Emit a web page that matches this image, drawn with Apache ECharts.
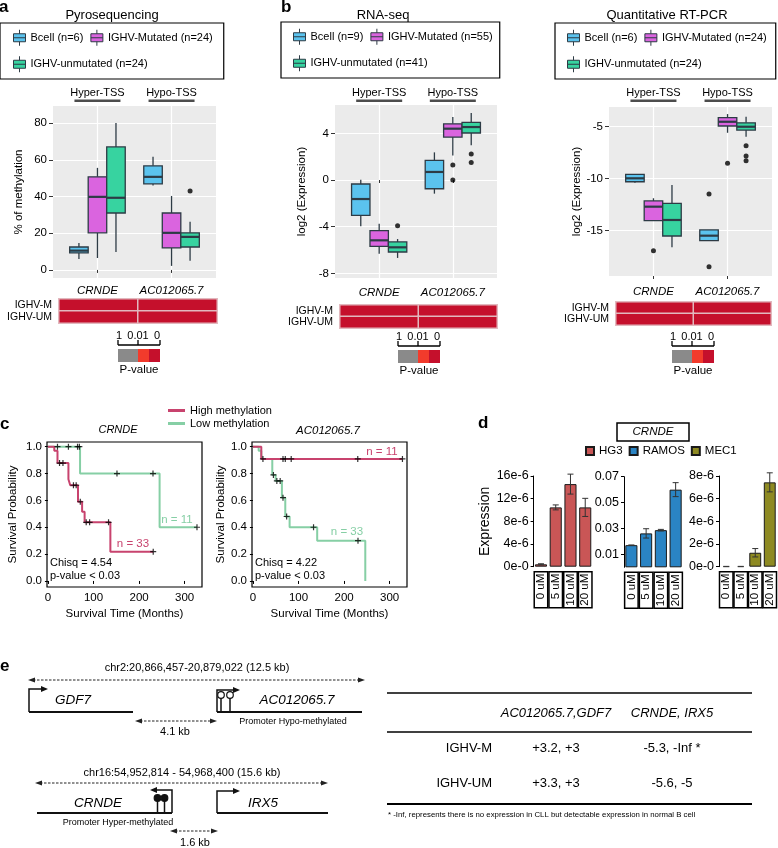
<!DOCTYPE html>
<html>
<head>
<meta charset="utf-8">
<script src="https://cdn.jsdelivr.net/npm/echarts@6/dist/echarts.min.js"></script>
<style>
html, body { margin: 0; padding: 0; background: #fff; }
#main { width: 778px; height: 848px; }
</style>
</head>
<body>
<div id="main"></div>
<script>
// ---------------- data ----------------
const genes = ['CRNDE', 'AC012065.7'];
const ighvRows = ['IGHV-M', 'IGHV-UM'];
const tssLabels = ['Hyper-TSS', 'Hypo-TSS'];

// box stats per gene: [lower whisker, q1, median, q3, upper whisker]
const pyroNames = ['Bcell (n=6)', 'IGHV-Mutated (n=24)', 'IGHV-unmutated (n=24)'];
const pyroBcell = [[6, 9.3, 10.5, 12.5, 14.7], [46, 46.9, 50.7, 56.7, 61.6]];
const pyroMut = [[6.5, 20.2, 39.8, 50.7, 55.6], [2.2, 12, 20.2, 31, 40.3]];
const pyroUnmut = [[9.8, 31, 39.3, 67, 80], [5, 12.5, 18, 20.2, 26.2]];
const pyroOutBcell = [[], []];
const pyroOutMut = [[], []];
const pyroOutUnmut = [[], [43]];
const pyroTicks = [0, 20, 40, 60, 80];
const pyroP = [[0.001, 0.001], [0.001, 0.001]];

const rnaNames = ['Bcell (n=9)', 'IGHV-Mutated (n=55)', 'IGHV-unmutated (n=41)'];
const rnaBcell = [[-3.97, -3.03, -1.63, -0.34, 0.03], [-1.17, -0.75, 0.69, 1.68, 2.37]];
const rnaMut = [[-6.32, -5.69, -5.17, -4.34, -3.74], [2.11, 3.68, 4.4, 4.82, 5.4]];
const rnaUnmut = [[-6.68, -6.17, -5.77, -5.31, -5.06], [2.97, 4.03, 4.54, 4.94, 5.74]];
const rnaOutBcell = [[], []];
const rnaOutMut = [[], [1.28, 0]];
const rnaOutUnmut = [[-3.92], [2.23, 1.51]];
const rnaTicks = [-8, -4, 0, 4];
const rnaP = [[0.001, 0.001], [0.001, 0.001]];

const qpcrNames = ['Bcell (n=6)', 'IGHV-Mutated (n=24)', 'IGHV-unmutated (n=24)'];
const qpcrBcell = [[-10.4, -10.29, -9.96, -9.58, -9.55], [-15.96, -15.96, -15.48, -14.93, -14.93]];
const qpcrMut = [[-14.04, -14.04, -12.69, -12.14, -11.88], [-5.58, -4.93, -4.52, -4.13, -3.78]];
const qpcrUnmut = [[-16.6, -15.51, -13.97, -12.37, -10.6], [-5.96, -5.32, -5.0, -4.62, -4.04]];
const qpcrOutBcell = [[], [-11.47, -18.46]];
const qpcrOutMut = [[-16.92], [-8.52]];
const qpcrOutUnmut = [[], [-6.83, -7.82, -8.27]];
const qpcrTicks = [-15, -10, -5];
const qpcrP = [[0.001, 0.001], [0.001, 0.001]];

const pLegendLabels = ['1', '0.01', '0'];

// Kaplan-Meier: [time (months), survival]
const kmGroups = ['High methylation', 'Low methylation'];
const crndeHigh = [[0, 1], [14, 0.97], [21, 0.878], [45, 0.757], [49, 0.713], [66, 0.59], [75, 0.516], [80.5, 0.437], [137, 0.218], [231, 0.218]];
const crndeHighCens = [[25.5, 0.878], [33, 0.878], [56, 0.713], [62, 0.713], [71, 0.59], [84, 0.437], [91.5, 0.437], [133, 0.437], [231, 0.218]];
const crndeLow = [[0, 1], [70.5, 0.8], [245, 0.4], [327, 0.4]];
const crndeLowCens = [[21, 1], [45, 1], [65, 1], [69, 1], [151.5, 0.8], [230.5, 0.8], [327, 0.4]];
const acHigh = [[0, 1], [18.4, 0.909], [328, 0.909]];
const acHighCens = [[22, 0.909], [66, 0.909], [71, 0.909], [84, 0.909], [230, 0.909], [328, 0.909]];
const acLow = [[0, 1], [12.6, 0.97], [18.4, 0.94], [20, 0.909], [42.5, 0.79], [49.8, 0.745], [63.6, 0.62], [71, 0.48], [80.5, 0.4], [141, 0.3], [246.5, 0]];
const acLowCens = [[45, 0.79], [52.5, 0.745], [59.8, 0.745], [66, 0.62], [74, 0.48], [133, 0.4], [230.5, 0.3]];
const kmTimeTicks = [0, 100, 200, 300];
const kmSurvTicks = [0, 0.2, 0.4, 0.6, 0.8, 1.0];
const kmStats = [['Chisq = 4.54', 'p-value < 0.03'], ['Chisq = 4.22', 'p-value < 0.03']];

// cell lines, CRNDE expression (mean, error)
const doses = ['0 uM', '5 uM', '10 uM', '20 uM'];
const cellLines = ['HG3', 'RAMOS', 'MEC1'];
const hg3Vals = [0.42e-6, 10.46e-6, 14.57e-6, 10.46e-6];
const hg3Err = [0.1e-6, 0.44e-6, 1.76e-6, 1.6e-6];
const ramosVals = [0.0171, 0.0262, 0.0287, 0.060];
const ramosErr = [0, 0.0036, 0.0006, 0.0054];
const mec1Vals = [0, 0, 1.23e-6, 7.44e-6];
const mec1Err = [0.03e-6, 0.03e-6, 0.37e-6, 0.84e-6];
const hg3Ticks = [0, 4e-6, 8e-6, 12e-6, 16e-6];
const ramosTicks = [0.01, 0.03, 0.05, 0.07];
const mec1Ticks = [0, 2e-6, 4e-6, 6e-6, 8e-6];

// genomic loci + table
const locusTitles = ['chr2:20,866,457-20,879,022 (12.5 kb)', 'chr16:54,952,814 - 54,968,400 (15.6 kb)'];
const tableCols = ['AC012065.7,GDF7', 'CRNDE, IRX5'];
const tableRowNames = ['IGHV-M', 'IGHV-UM'];
const tableCells = [['+3.2, +3', '-5.3, -Inf *'], ['+3.3, +3', '-5.6, -5']];
const tableNote = '* -Inf, represents there is no expression in CLL but detectable expression in normal B cell';

// ---------------- helpers ----------------
const FONT = '"Liberation Sans", Arial, Helvetica, sans-serif';
const BOX_W = 0.25;
const EDGE = '#2d3b45';
const groupColors = ['#5bc3ee', '#da64df', '#37d3a0'];
const HIGH_C = '#c8436e';
const LOW_C = '#86cfa5';
const BOX_ICON = 'path://M0.5,3.5H10.5V10.5H0.5Z M5.5,0V3.5 M5.5,10.5V14 M0.5,7H10.5';
const PLUS = 'path://M0,2H5V3H0Z M2,0H3V5H2Z';

const grids = [], xAxes = [], yAxes = [], series = [], legends = [], graphics = [];

function txt(x, y, text, size, opt) {
  opt = opt || {};
  const align = opt.align || 'center';
  graphics.push({
    type: 'text', x: x, y: y, rotation: opt.rotation || 0, silent: true,
    style: {
      text: text, fill: opt.color || '#000', fontSize: size, fontFamily: FONT,
      fontStyle: opt.italic ? 'italic' : 'normal', fontWeight: opt.bold ? 'bold' : 'normal',
      align: align, verticalAlign: 'middle', textAlign: align, textVerticalAlign: 'middle'
    }
  });
}
function seg(x1, y1, x2, y2, w, color, dash) {
  const style = { stroke: color || '#000', lineWidth: w || 1 };
  if (dash) style.lineDash = dash;
  graphics.push({ type: 'line', silent: true, shape: { x1, y1, x2, y2 }, style });
}
function rect(x, y, w, h, fill, stroke, lw) {
  graphics.push({ type: 'rect', silent: true, shape: { x, y, width: w, height: h },
    style: { fill: fill || 'none', stroke: stroke || 'none', lineWidth: lw || 0 } });
}
function tri(points, color) {
  graphics.push({ type: 'polygon', silent: true, shape: { points }, style: { fill: color || '#111' } });
}
function dashArrow(x1, x2, y) {
  seg(x1 + 5, y, x2 - 5, y, 1, '#222', [2.5, 1.5]);
  tri([[x1, y], [x1 + 7, y - 2.5], [x1 + 7, y + 2.5]], '#222');
  tri([[x2, y], [x2 - 7, y - 2.5], [x2 - 7, y + 2.5]], '#222');
}
function tssArrow(x, yBase, yTop, xEnd) {
  const dir = xEnd > x ? 1 : -1;
  graphics.push({ type: 'polyline', silent: true,
    shape: { points: [[x, yBase], [x, yTop], [xEnd - dir * 5, yTop]] },
    style: { stroke: '#111', lineWidth: 1.5, fill: 'none' } });
  tri([[xEnd, yTop], [xEnd - dir * 7, yTop - 3], [xEnd - dir * 7, yTop + 3]]);
}
function lollipop(x, yHead, yBase, filled) {
  seg(x, yHead + 3, x, yBase, 1.5, '#111');
  graphics.push({ type: 'circle', silent: true, shape: { cx: x, cy: yHead, r: 3.3 },
    style: { fill: filled ? '#111' : '#fff', stroke: '#111', lineWidth: 1.2 } });
}
function pColor(p) {
  if (p > 0.05) return '#8a8a8a';
  if (p > 0.005) return '#f23b2c';
  return '#c5102c';
}
function pLegend(x0, y0) {
  rect(x0, y0, 20, 13, '#8a8a8a');
  rect(x0 + 20, y0, 11, 13, '#f23b2c');
  rect(x0 + 31, y0, 11, 13, '#c5102c');
  seg(x0, y0 - 4, x0 + 42, y0 - 4, 1.3);
  [0, 20, 42].forEach(d => seg(x0 + d, y0 - 4, x0 + d, y0 - 9, 1.3));
  txt(x0 + 1, y0 - 13, pLegendLabels[0], 11);
  txt(x0 + 20, y0 - 13, pLegendLabels[1], 11);
  txt(x0 + 39, y0 - 13, pLegendLabels[2], 11);
  txt(x0 + 21, y0 + 21, 'P-value', 11.5);
}

function renderBox(params, api) {
  const x = api.value(0);
  const half = api.size([BOX_W, 0])[0] / 2;
  const px = api.coord([x, 0])[0];
  const y = i => api.coord([x, api.value(i)])[1];
  const lo = y(1), q1 = y(2), md = y(3), q3 = y(4), hi = y(5);
  return {
    type: 'group',
    children: [
      { type: 'line', shape: { x1: px, y1: hi, x2: px, y2: q3 }, style: { stroke: EDGE, lineWidth: 1.3 } },
      { type: 'line', shape: { x1: px, y1: q1, x2: px, y2: lo }, style: { stroke: EDGE, lineWidth: 1.3 } },
      { type: 'rect', shape: { x: px - half, y: q3, width: half * 2, height: q1 - q3 },
        style: { fill: api.visual('color'), stroke: EDGE, lineWidth: 1.3 } },
      { type: 'line', shape: { x1: px - half, y1: md, x2: px + half, y2: md }, style: { stroke: EDGE, lineWidth: 2.2 } }
    ]
  };
}
function renderErr(params, api) {
  const lo = api.coord([api.value(0), api.value(1)]);
  const hi = api.coord([api.value(0), api.value(2)]);
  const st = { stroke: '#333', lineWidth: 1 };
  return {
    type: 'group',
    children: [
      { type: 'line', shape: { x1: lo[0], y1: lo[1], x2: hi[0], y2: hi[1] }, style: st },
      { type: 'line', shape: { x1: lo[0] - 3, y1: lo[1], x2: lo[0] + 3, y2: lo[1] }, style: st },
      { type: 'line', shape: { x1: hi[0] - 3, y1: hi[1], x2: hi[0] + 3, y2: hi[1] }, style: st }
    ]
  };
}

// ---------------- panels a / b : boxplots ----------------
const boxPanels = [
  { rect: [53, 106, 163, 172], range: [-4.4, 89.3], ticks: pyroTicks, yName: '% of methylation', nameGap: 28, xMargin: 7,
    names: pyroNames, stats: [pyroBcell, pyroMut, pyroUnmut], outliers: [pyroOutBcell, pyroOutMut, pyroOutUnmut],
    heat: [59, 299, 158, 24], pvals: pyroP, legend: [0, 23, [5, 11, 5, 13]], pLeg: [118, 349] },
  { rect: [335, 105, 162, 173], range: [-8.4, 6.43], ticks: rnaTicks, yName: 'log2 (Expression)', nameGap: 27, xMargin: 9,
    names: rnaNames, stats: [rnaBcell, rnaMut, rnaUnmut], outliers: [rnaOutBcell, rnaOutMut, rnaOutUnmut],
    heat: [340, 305, 157, 23], pvals: rnaP, legend: [281, 22, [5, 7, 5, 12]], pLeg: [398, 350] },
  { rect: [609, 107, 163, 169], range: [-19.36, -3.1], ticks: qpcrTicks, yName: 'log2 (Expression)', nameGap: 24, xMargin: 10,
    names: qpcrNames, stats: [qpcrBcell, qpcrMut, qpcrUnmut], outliers: [qpcrOutBcell, qpcrOutMut, qpcrOutUnmut],
    heat: [616, 302, 155, 23], pvals: qpcrP, legend: [555, 23, [5, 9, 5, 12]], pLeg: [672, 350] }
];

boxPanels.forEach(p => {
  const gi = grids.length;
  grids.push({ left: p.rect[0], top: p.rect[1], width: p.rect[2], height: p.rect[3], show: true,
    backgroundColor: '#ebebeb', borderWidth: 0, outerBoundsMode: 'none' });
  xAxes.push({ gridIndex: gi, type: 'value', min: 0.4, max: 2.6,
    axisLine: { show: false },
    axisTick: { show: true, customValues: [1, 2], length: 3, lineStyle: { color: '#333' } },
    axisLabel: { customValues: [1, 2], formatter: v => genes[Math.round(v) - 1], fontStyle: 'italic',
      fontSize: 11.5, color: '#000', margin: p.xMargin },
    splitLine: { show: true, lineStyle: { color: '#fff', width: 1.2 } } });
  yAxes.push({ gridIndex: gi, type: 'value', min: p.range[0], max: p.range[1],
    name: p.yName, nameLocation: 'middle', nameGap: p.nameGap, nameTextStyle: { fontSize: 11.5, color: '#000' },
    axisLine: { show: false },
    axisTick: { show: true, customValues: p.ticks, length: 4, lineStyle: { color: '#333' } },
    axisLabel: { customValues: p.ticks, fontSize: 11.5, color: '#000', margin: 6 },
    splitLine: { show: true, lineStyle: { color: '#fff', width: 1.2 } } });

  p.stats.forEach((st, k) => {
    series.push({ type: 'custom', name: p.names[k], xAxisIndex: gi, yAxisIndex: gi,
      itemStyle: { color: groupColors[k] }, renderItem: renderBox, encode: { x: 0, y: [1, 2, 3, 4, 5] },
      data: st.map((s, g) => [g + 1 + (k - 1) * BOX_W].concat(s)) });
    const pts = [];
    p.outliers[k].forEach((vals, g) => vals.forEach(v => pts.push([g + 1 + (k - 1) * BOX_W, v])));
    if (pts.length) {
      series.push({ type: 'scatter', xAxisIndex: gi, yAxisIndex: gi, symbolSize: 5, z: 5,
        itemStyle: { color: '#000' }, data: pts });
    }
  });

  legends.push({ left: p.legend[0], top: p.legend[1], width: 200, padding: p.legend[2],
    itemGap: 7, itemWidth: 12, itemHeight: 16, icon: BOX_ICON, symbolKeepAspect: false, selectedMode: false,
    borderColor: '#000', borderWidth: 1.2,
    itemStyle: { borderColor: EDGE, borderWidth: 1 },
    textStyle: { fontSize: 11, color: '#000', lineHeight: 19.5 },
    data: p.names });

  // group captions above the panel
  tssLabels.forEach((lab, g) => {
    const cx = p.rect[0] + (g + 0.6) / 2.2 * p.rect[2];
    txt(cx, 93, lab, 11);
    rect(cx - 23, 99.5, 46, 2.5, '#4d4d4d');
  });

  // p-value strip
  const hi = grids.length;
  grids.push({ left: p.heat[0], top: p.heat[1], width: p.heat[2], height: p.heat[3], outerBoundsMode: 'none' });
  xAxes.push({ gridIndex: hi, type: 'category', data: genes, show: false });
  yAxes.push({ gridIndex: hi, type: 'category', data: ighvRows, inverse: true,
    axisLine: { show: false }, axisTick: { show: false }, splitLine: { show: false },
    axisLabel: { interval: 0, fontSize: 10.5, color: '#000', margin: 7 } });
  const heatData = [];
  p.pvals.forEach((row, r) => row.forEach((pv, g) => heatData.push({ value: [g, r, pv], itemStyle: { color: pColor(pv) } })));
  series.push({ type: 'heatmap', xAxisIndex: hi, yAxisIndex: hi, data: heatData,
    itemStyle: { borderColor: '#e2b8be', borderWidth: 1.5 } });
  pLegend(p.pLeg[0], p.pLeg[1]);
});

// ---------------- panel c : Kaplan-Meier ----------------
const kmPanels = [
  { rect: [47, 442, 155, 145], high: crndeHigh, highCens: crndeHighCens, low: crndeLow, lowCens: crndeLowCens, nameGap: 28 },
  { rect: [252, 442, 155, 145], high: acHigh, highCens: acHighCens, low: acLow, lowCens: acLowCens, nameGap: 24 }
];
kmPanels.forEach(p => {
  const gi = grids.length;
  grids.push({ left: p.rect[0], top: p.rect[1], width: p.rect[2], height: p.rect[3], show: true,
    borderColor: '#000', borderWidth: 1.2, backgroundColor: 'transparent', outerBoundsMode: 'none' });
  xAxes.push({ gridIndex: gi, type: 'value', min: -2, max: 338,
    name: 'Survival Time (Months)', nameLocation: 'middle', nameGap: 21, nameTextStyle: { fontSize: 11.5, color: '#000' },
    axisLine: { show: false },
    axisTick: { show: true, customValues: kmTimeTicks, length: 3, lineStyle: { color: '#000' } },
    axisLabel: { customValues: kmTimeTicks, fontSize: 11.5, color: '#000', margin: 5 },
    splitLine: { show: false } });
  yAxes.push({ gridIndex: gi, type: 'value', min: -0.045, max: 1.035,
    name: 'Survival Probability', nameLocation: 'middle', nameGap: p.nameGap, nameTextStyle: { fontSize: 11.5, color: '#000' },
    axisLine: { show: false },
    axisTick: { show: true, customValues: kmSurvTicks, length: 3, lineStyle: { color: '#000' } },
    axisLabel: { customValues: kmSurvTicks, formatter: v => v.toFixed(1), fontSize: 11.5, color: '#000', margin: 5 },
    splitLine: { show: false } });
  series.push({ type: 'line', name: kmGroups[1], xAxisIndex: gi, yAxisIndex: gi, step: 'end', showSymbol: false,
    itemStyle: { color: LOW_C }, lineStyle: { color: LOW_C, width: 2 }, data: p.low });
  series.push({ type: 'line', name: kmGroups[0], xAxisIndex: gi, yAxisIndex: gi, step: 'end', showSymbol: false,
    itemStyle: { color: HIGH_C }, lineStyle: { color: HIGH_C, width: 2 }, data: p.high });
  [p.lowCens, p.highCens].forEach(c => series.push({ type: 'scatter', xAxisIndex: gi, yAxisIndex: gi,
    symbol: PLUS, symbolSize: 6, z: 5, itemStyle: { color: '#000' }, data: c }));
});
legends.push({ left: 168, top: 404, orient: 'vertical', itemWidth: 17, itemHeight: 3, itemGap: 0,
  icon: 'rect', selectedMode: false, padding: 0,
  textStyle: { fontSize: 11, color: '#000', lineHeight: 13 }, data: kmGroups });

// ---------------- panel d : bars ----------------
const sci = v => v === 0 ? '0e-0' : Math.round(v * 1e6) + 'e-6';
const barPanels = [
  { vals: hg3Vals, err: hg3Err, color: '#c95656', rect: [533.6, 476, 59, 90.7], max: 16e-6, ticks: hg3Ticks, fmt: sci },
  { vals: ramosVals, err: ramosErr, color: '#2a84c4', rect: [624, 476.7, 59, 90.6], max: 0.07, ticks: ramosTicks, fmt: v => v.toFixed(2) },
  { vals: mec1Vals, err: mec1Err, color: '#8e8a22', rect: [719, 476, 58, 90.7], max: 8e-6, ticks: mec1Ticks, fmt: sci }
];
barPanels.forEach((p, i) => {
  const gi = grids.length;
  grids.push({ left: p.rect[0], top: p.rect[1], width: p.rect[2], height: p.rect[3], outerBoundsMode: 'none' });
  xAxes.push({ gridIndex: gi, type: 'category', data: doses,
    axisLine: { show: false }, axisTick: { show: false },
    axisLabel: { interval: 0, rotate: 90, margin: 5, fontSize: 11.5, color: '#000',
      width: 33, height: 11.5, lineHeight: 11.5, padding: [1, 2, 1, 1],
      borderColor: '#000', borderWidth: 1.5 } });
  yAxes.push({ gridIndex: gi, type: 'value', min: 0, max: p.max,
    name: i === 0 ? 'Expression' : '', nameLocation: 'middle', nameGap: 41, nameTextStyle: { fontSize: 14, color: '#000' },
    axisLine: { show: true, lineStyle: { color: '#000', width: 1 } },
    axisTick: { show: true, customValues: p.ticks, length: 3, lineStyle: { color: '#000' } },
    axisLabel: { customValues: p.ticks, formatter: p.fmt, fontSize: 12.5, color: '#000', margin: 5 },
    splitLine: { show: false } });
  series.push({ type: 'bar', name: cellLines[i], xAxisIndex: gi, yAxisIndex: gi, barWidth: '82%',
    itemStyle: { color: p.color, borderColor: '#1a1a1a', borderWidth: 1 },
    data: p.vals.map(v => v === 0 ? { value: 0, itemStyle: { borderWidth: 0 } } : v) });
  series.push({ type: 'custom', xAxisIndex: gi, yAxisIndex: gi, renderItem: renderErr, z: 5,
    encode: { x: 0, y: [1, 2] },
    data: p.vals.map((v, c) => [c, Math.max(0, v - p.err[c]), v + p.err[c]]) });
});
legends.push({ left: 585, top: 445, itemWidth: 8, itemHeight: 8, itemGap: 6, icon: 'rect', selectedMode: false,
  padding: 0, textStyle: { fontSize: 11.5, color: '#000' }, data: cellLines });

// ---------------- annotations ----------------
txt(-1, 7, 'a', 17, { bold: true, align: 'left' });
txt(281, 7, 'b', 17, { bold: true, align: 'left' });
txt(0, 424, 'c', 17, { bold: true, align: 'left' });
txt(478, 423, 'd', 17, { bold: true, align: 'left' });
txt(0, 666, 'e', 17, { bold: true, align: 'left' });

txt(112, 15, 'Pyrosequencing', 13);
txt(383, 15, 'RNA-seq', 13);
txt(667, 15, 'Quantitative RT-PCR', 13);

// panel c text
txt(118, 430, genes[0], 11, { italic: true });
txt(328, 431, genes[1], 11.5, { italic: true });
txt(133, 544, 'n = 33', 11.5, { color: HIGH_C });
txt(177, 520, 'n = 11', 11.5, { color: LOW_C });
txt(382, 452, 'n = 11', 11.5, { color: HIGH_C });
txt(347, 532, 'n = 33', 11.5, { color: LOW_C });
txt(50, 563, kmStats[0][0], 11, { align: 'left' });
txt(50, 576, kmStats[0][1], 11, { align: 'left' });
txt(255, 563, kmStats[1][0], 11, { align: 'left' });
txt(255, 576, kmStats[1][1], 11, { align: 'left' });

// panel d header
rect(617, 423, 72, 18, '#fff', '#000', 1.5);
txt(653, 432, genes[0], 11.5, { italic: true });

// panel e: loci
txt(197, 668, locusTitles[0], 11);
dashArrow(28, 365, 680);
seg(29, 712, 133, 712, 2, '#111');
tssArrow(29, 712, 689, 48);
txt(73, 700, 'GDF7', 13.5, { italic: true });
dashArrow(135, 217, 721);
txt(175, 732, '4.1 kb', 11);
seg(217, 712, 362, 712, 2, '#111');
tssArrow(217, 712, 690, 240);
lollipop(221, 695, 712, false);
lollipop(230, 695, 712, false);
txt(297, 700, genes[1], 13.5, { italic: true });
txt(293, 722, 'Promoter Hypo-methylated', 9);

txt(182, 773, locusTitles[1], 11);
dashArrow(35, 328, 783);
seg(37, 813, 172, 813, 2, '#111');
tssArrow(172, 813, 790, 150);
lollipop(157.5, 798, 813, true);
lollipop(164.5, 798, 813, true);
txt(98, 803, genes[0], 13.5, { italic: true });
txt(118, 823, 'Promoter Hyper-methylated', 9);
seg(217, 813, 328, 813, 2, '#111');
tssArrow(217, 813, 791, 240);
txt(263, 803, 'IRX5', 13.5, { italic: true });
dashArrow(170, 218, 831);
txt(195, 843, '1.6 kb', 11);

// panel e: table
const colX = [556, 672];
const rowY = [748, 783];
seg(387, 693, 752, 693, 1.5);
seg(387, 732, 752, 732, 1.5);
seg(387, 804, 752, 804, 2);
tableCols.forEach((c, j) => txt(colX[j], 713, c, 13, { italic: true }));
tableRowNames.forEach((r, i) => {
  txt(492, rowY[i], r, 13, { align: 'right' });
  tableCells[i].forEach((v, j) => txt(colX[j], rowY[i], v, 13));
});
txt(388, 815, tableNote, 7.8, { align: 'left' });

// ---------------- chart ----------------
const chart = echarts.init(document.getElementById('main'));
chart.setOption({
  animation: false,
  backgroundColor: '#fff',
  textStyle: { fontFamily: FONT },
  grid: grids,
  xAxis: xAxes,
  yAxis: yAxes,
  legend: legends,
  series: series,
  graphic: graphics
});
</script>
</body>
</html>
